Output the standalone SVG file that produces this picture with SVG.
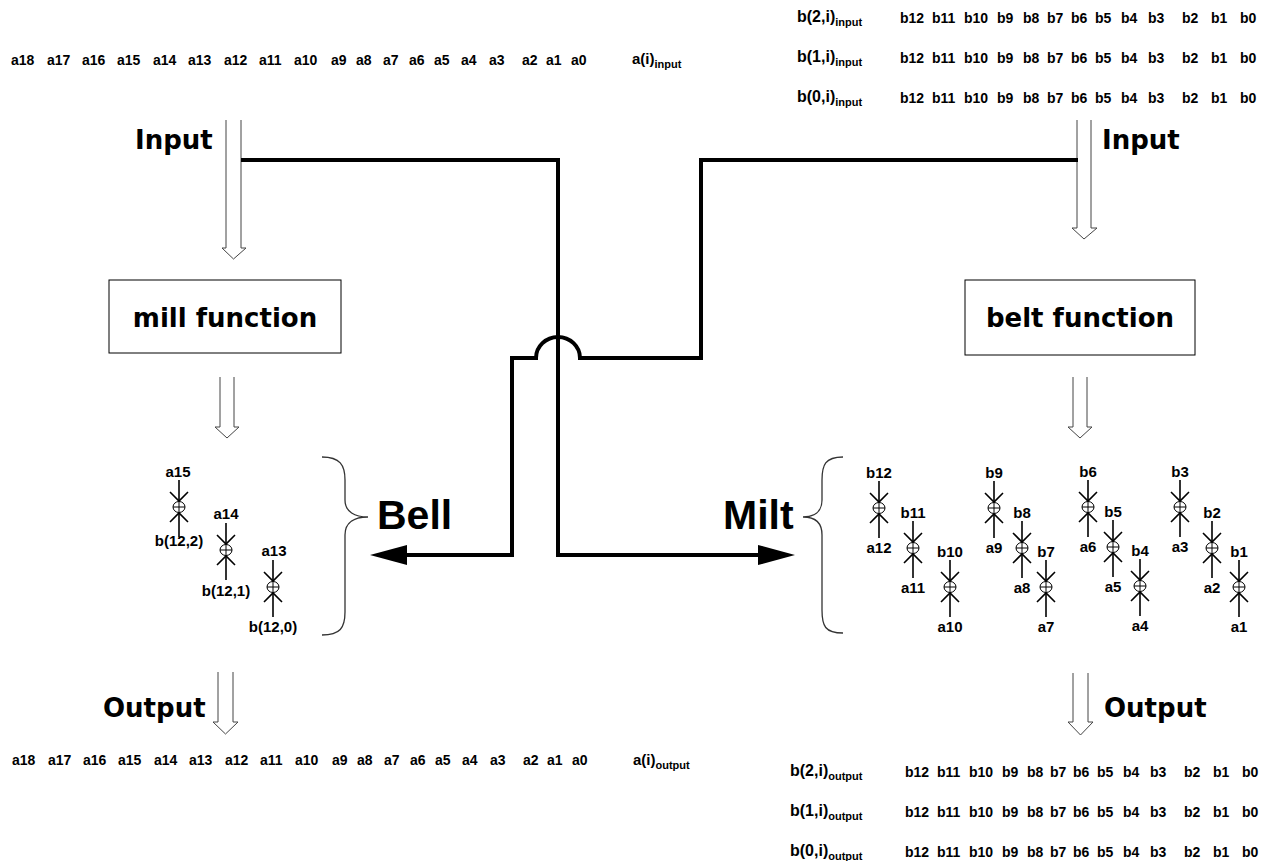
<svg xmlns="http://www.w3.org/2000/svg" xmlns:xlink="http://www.w3.org/1999/xlink" width="1271" height="861" viewBox="0 0 1271 861">
<style>
.row{font-family:"Liberation Sans",Arial,sans-serif;font-weight:bold;font-size:14px;fill:#000}
.lbl{font-family:"Liberation Sans",Arial,sans-serif;font-weight:bold;font-size:15px;fill:#000}
.hl{font-size:16px}
.sub{font-size:11px}
.big{font-family:"DejaVu Sans",Verdana,sans-serif;font-weight:bold;font-size:26px;fill:#000}
.huge{font-family:"Liberation Sans",Arial,sans-serif;font-weight:bold;font-size:41px;fill:#000}
.thick{fill:none;stroke:#000;stroke-width:4;stroke-linejoin:miter}
.hollow{fill:none;stroke:#444;stroke-width:1}
.brace{fill:none;stroke:#333;stroke-width:1.3}
.box{fill:#fff;stroke:#000;stroke-width:1}
.xl{fill:none;stroke:#000;stroke-width:1.6}
.xc{fill:#fff;stroke:#000;stroke-width:1}
.mid{text-anchor:middle}
</style>
<defs>
<g id="xor">
<line class="xl" x1="0" y1="-27" x2="0" y2="-6"/>
<polyline class="xl" points="-9,-15 0,-6 9,-15"/>
<line class="xl" x1="0" y1="6" x2="0" y2="30"/>
<polyline class="xl" points="-9,15 0,6 9,15"/>
<ellipse class="xc" cx="0" cy="0" rx="6" ry="5.5"/>
<line class="xc" x1="-6" y1="0" x2="6" y2="0"/>
<line class="xc" x1="0" y1="-5.5" x2="0" y2="5.5"/>
</g>
</defs>

<g id="a-input">
<text class="row" y="65"><tspan x="11">a18</tspan><tspan x="47">a17</tspan><tspan x="82">a16</tspan><tspan x="117">a15</tspan><tspan x="153">a14</tspan><tspan x="188">a13</tspan><tspan x="224">a12</tspan><tspan x="259">a11</tspan><tspan x="294">a10</tspan><tspan x="331">a9</tspan><tspan x="356">a8</tspan><tspan x="383">a7</tspan><tspan x="409">a6</tspan><tspan x="434">a5</tspan><tspan x="461">a4</tspan><tspan x="489">a3</tspan><tspan x="522">a2</tspan><tspan x="546">a1</tspan><tspan x="571">a0</tspan></text>
<text class="lbl" x="632" y="64">a(i)<tspan class="sub" dy="4">input</tspan></text>
</g>

<g id="b-input">
<text class="lbl hl" x="797" y="22">b(2,i)<tspan class="sub" dy="4">input</tspan></text>
<text class="lbl hl" x="797" y="62">b(1,i)<tspan class="sub" dy="4">input</tspan></text>
<text class="lbl hl" x="797" y="102">b(0,i)<tspan class="sub" dy="4">input</tspan></text>
<text class="row" y="23"><tspan x="900">b12</tspan><tspan x="932">b11</tspan><tspan x="964">b10</tspan><tspan x="997">b9</tspan><tspan x="1023">b8</tspan><tspan x="1047">b7</tspan><tspan x="1071">b6</tspan><tspan x="1095">b5</tspan><tspan x="1121">b4</tspan><tspan x="1148">b3</tspan><tspan x="1182">b2</tspan><tspan x="1211">b1</tspan><tspan x="1240">b0</tspan></text>
<text class="row" y="63"><tspan x="900">b12</tspan><tspan x="932">b11</tspan><tspan x="964">b10</tspan><tspan x="997">b9</tspan><tspan x="1023">b8</tspan><tspan x="1047">b7</tspan><tspan x="1071">b6</tspan><tspan x="1095">b5</tspan><tspan x="1121">b4</tspan><tspan x="1148">b3</tspan><tspan x="1182">b2</tspan><tspan x="1211">b1</tspan><tspan x="1240">b0</tspan></text>
<text class="row" y="103"><tspan x="900">b12</tspan><tspan x="932">b11</tspan><tspan x="964">b10</tspan><tspan x="997">b9</tspan><tspan x="1023">b8</tspan><tspan x="1047">b7</tspan><tspan x="1071">b6</tspan><tspan x="1095">b5</tspan><tspan x="1121">b4</tspan><tspan x="1148">b3</tspan><tspan x="1182">b2</tspan><tspan x="1211">b1</tspan><tspan x="1240">b0</tspan></text>
</g>

<g id="input-left">
<polyline class="hollow" points="226,120 226,248 222,248 233.5,259 246,248 241,248 241,120"/>
<text class="big" x="135" y="149">Input</text>
</g>
<g id="input-right">
<polyline class="hollow" points="1077,120 1077,228 1072,228 1084,239 1097,228 1091,228 1091,120"/>
<text class="big" x="1102" y="149">Input</text>
</g>

<g id="mill">
<rect class="box" x="109" y="280" width="232" height="73"/>
<text class="big mid" x="225" y="327">mill function</text>
</g>
<g id="belt">
<rect class="box" x="965" y="280" width="230" height="75"/>
<text class="big mid" x="1080" y="327">belt function</text>
</g>

<g id="mill-out">
<polyline class="hollow" points="220,377 220,427 215,427 227,438 239,427 234,427 234,377"/>
</g>
<g id="belt-out">
<polyline class="hollow" points="1073,377 1073,427 1068,427 1080,438 1092,427 1087,427 1087,377"/>
</g>

<g id="bell-block">
<use xlink:href="#xor" href="#xor" x="179" y="507"/>
<use xlink:href="#xor" href="#xor" x="226" y="550"/>
<use xlink:href="#xor" href="#xor" x="273" y="587"/>
<text class="lbl mid" x="178" y="477">a15</text>
<text class="lbl mid" x="179" y="546">b(12,2)</text>
<text class="lbl mid" x="226" y="519">a14</text>
<text class="lbl mid" x="226" y="596">b(12,1)</text>
<text class="lbl mid" x="274" y="556">a13</text>
<text class="lbl mid" x="273" y="632">b(12,0)</text>
<path class="brace" d="M322,457 C340,457 345,465 345,480 L345,500 C345,512 355,517 368,517 C355,517 345,522 345,535 L345,612 C345,628 340,635 322,635"/>
<text class="huge" x="377" y="529">Bell</text>
</g>

<g id="milt-block">
<path class="brace" d="M843,457 C825,457 822,465 822,480 L822,500 C822,512 814,517 803,517 C814,517 822,522 822,535 L822,610 C822,626 825,633 843,633"/>
<text class="huge" x="723" y="529">Milt</text>
<use xlink:href="#xor" href="#xor" x="879" y="508"/>
<use xlink:href="#xor" href="#xor" x="913" y="548"/>
<use xlink:href="#xor" href="#xor" x="950" y="587"/>
<use xlink:href="#xor" href="#xor" x="994" y="508"/>
<use xlink:href="#xor" href="#xor" x="1022" y="548"/>
<use xlink:href="#xor" href="#xor" x="1046" y="587"/>
<use xlink:href="#xor" href="#xor" x="1088" y="507"/>
<use xlink:href="#xor" href="#xor" x="1113" y="547"/>
<use xlink:href="#xor" href="#xor" x="1140" y="586"/>
<use xlink:href="#xor" href="#xor" x="1180" y="507"/>
<use xlink:href="#xor" href="#xor" x="1212" y="548"/>
<use xlink:href="#xor" href="#xor" x="1239" y="587"/>
<text class="lbl mid" x="879" y="478">b12</text><text class="lbl mid" x="879" y="553">a12</text>
<text class="lbl mid" x="913" y="518">b11</text><text class="lbl mid" x="913" y="593">a11</text>
<text class="lbl mid" x="950" y="557">b10</text><text class="lbl mid" x="950" y="632">a10</text>
<text class="lbl mid" x="994" y="478">b9</text><text class="lbl mid" x="994" y="553">a9</text>
<text class="lbl mid" x="1022" y="518">b8</text><text class="lbl mid" x="1022" y="593">a8</text>
<text class="lbl mid" x="1046" y="557">b7</text><text class="lbl mid" x="1046" y="632">a7</text>
<text class="lbl mid" x="1088" y="477">b6</text><text class="lbl mid" x="1088" y="552">a6</text>
<text class="lbl mid" x="1113" y="517">b5</text><text class="lbl mid" x="1113" y="592">a5</text>
<text class="lbl mid" x="1140" y="556">b4</text><text class="lbl mid" x="1140" y="631">a4</text>
<text class="lbl mid" x="1180" y="477">b3</text><text class="lbl mid" x="1180" y="552">a3</text>
<text class="lbl mid" x="1212" y="518">b2</text><text class="lbl mid" x="1212" y="593">a2</text>
<text class="lbl mid" x="1239" y="557">b1</text><text class="lbl mid" x="1239" y="632">a1</text>
</g>

<g id="output-left">
<polyline class="hollow" points="218,672 218,722 213,722 225.5,734 238,722 233,722 233,672"/>
<text class="big" x="103" y="717">Output</text>
</g>
<g id="output-right">
<polyline class="hollow" points="1073,673 1073,722 1068,722 1080.5,735 1093,722 1088,722 1088,673"/>
<text class="big" x="1104" y="717">Output</text>
</g>

<g id="a-output">
<text class="row" y="765"><tspan x="12">a18</tspan><tspan x="48">a17</tspan><tspan x="83">a16</tspan><tspan x="118">a15</tspan><tspan x="154">a14</tspan><tspan x="189">a13</tspan><tspan x="225">a12</tspan><tspan x="260">a11</tspan><tspan x="295">a10</tspan><tspan x="332">a9</tspan><tspan x="357">a8</tspan><tspan x="384">a7</tspan><tspan x="410">a6</tspan><tspan x="435">a5</tspan><tspan x="462">a4</tspan><tspan x="490">a3</tspan><tspan x="523">a2</tspan><tspan x="547">a1</tspan><tspan x="572">a0</tspan></text>
<text class="lbl" x="633" y="765">a(i)<tspan class="sub" dy="4">output</tspan></text>
</g>

<g id="b-output">
<text class="lbl hl" x="790" y="776">b(2,i)<tspan class="sub" dy="4">output</tspan></text>
<text class="lbl hl" x="790" y="816">b(1,i)<tspan class="sub" dy="4">output</tspan></text>
<text class="lbl hl" x="790" y="856">b(0,i)<tspan class="sub" dy="4">output</tspan></text>
<text class="row" y="777"><tspan x="905">b12</tspan><tspan x="937">b11</tspan><tspan x="969">b10</tspan><tspan x="1002">b9</tspan><tspan x="1027">b8</tspan><tspan x="1050">b7</tspan><tspan x="1073">b6</tspan><tspan x="1097">b5</tspan><tspan x="1123">b4</tspan><tspan x="1150">b3</tspan><tspan x="1184">b2</tspan><tspan x="1213">b1</tspan><tspan x="1242">b0</tspan></text>
<text class="row" y="817"><tspan x="905">b12</tspan><tspan x="937">b11</tspan><tspan x="969">b10</tspan><tspan x="1002">b9</tspan><tspan x="1027">b8</tspan><tspan x="1050">b7</tspan><tspan x="1073">b6</tspan><tspan x="1097">b5</tspan><tspan x="1123">b4</tspan><tspan x="1150">b3</tspan><tspan x="1184">b2</tspan><tspan x="1213">b1</tspan><tspan x="1242">b0</tspan></text>
<text class="row" y="857"><tspan x="905">b12</tspan><tspan x="937">b11</tspan><tspan x="969">b10</tspan><tspan x="1002">b9</tspan><tspan x="1027">b8</tspan><tspan x="1050">b7</tspan><tspan x="1073">b6</tspan><tspan x="1097">b5</tspan><tspan x="1123">b4</tspan><tspan x="1150">b3</tspan><tspan x="1184">b2</tspan><tspan x="1213">b1</tspan><tspan x="1242">b0</tspan></text>
</g>

<g id="connectors">
<path class="thick" d="M241,160 L558,160 L558,555 L762,555"/>
<polygon points="758,545 795,555 758,565" fill="#000"/>
<path class="thick" d="M1078,160 L701,160 L701,358 L580,358 A22,21 0 0 0 536,358 L512,358 L512,555 L404,555"/>
<polygon points="407,545 370,555 407,565" fill="#000"/>
</g>
</svg>
